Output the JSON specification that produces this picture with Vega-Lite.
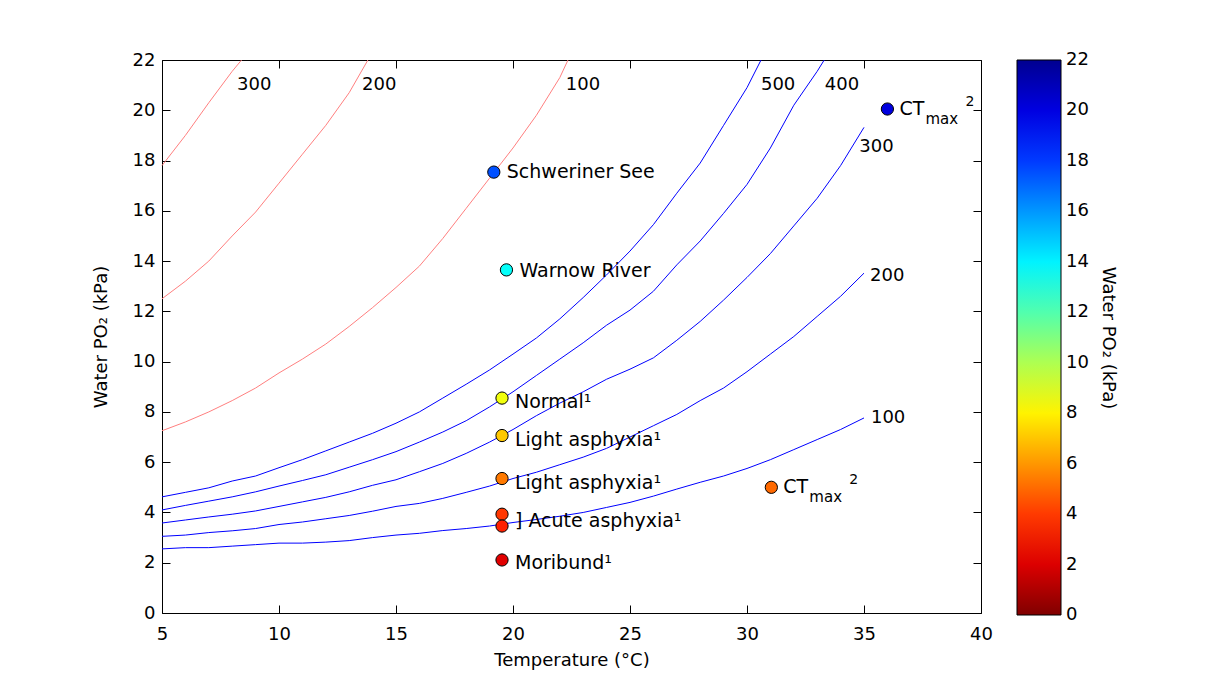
{
  "$schema": "https://vega.github.io/schema/vega-lite/v6.json",
  "width": 819,
  "height": 553,
  "autosize": "none",
  "padding": {"left": 162, "top": 60, "right": 236, "bottom": 71},
  "background": "white",
  "config": {
    "font": "DejaVu Sans",
    "view": {"stroke": null},
    "axis": {
      "domainColor": "#000000",
      "domainWidth": 1,
      "tickColor": "#000000",
      "tickWidth": 1,
      "labelColor": "#000000",
      "labelFontSize": 18,
      "titleColor": "#000000",
      "titleFontSize": 18,
      "titleFontWeight": "normal",
      "grid": false,
      "labelFlush": false,
      "labelOverlap": false
    }
  },
  "datasets": {
    "contours": [
      {"set": "blue", "level": 100, "T": 5, "P": 2.55}, {"set": "blue", "level": 100, "T": 6, "P": 2.6}, {"set": "blue", "level": 100, "T": 7, "P": 2.6}, {"set": "blue", "level": 100, "T": 8, "P": 2.66}, {"set": "blue", "level": 100, "T": 9, "P": 2.72}, {"set": "blue", "level": 100, "T": 10, "P": 2.78}, {"set": "blue", "level": 100, "T": 11, "P": 2.78}, {"set": "blue", "level": 100, "T": 12, "P": 2.82}, {"set": "blue", "level": 100, "T": 13, "P": 2.88}, {"set": "blue", "level": 100, "T": 14, "P": 3.0}, {"set": "blue", "level": 100, "T": 15, "P": 3.1}, {"set": "blue", "level": 100, "T": 16, "P": 3.17}, {"set": "blue", "level": 100, "T": 17, "P": 3.28}, {"set": "blue", "level": 100, "T": 18, "P": 3.36}, {"set": "blue", "level": 100, "T": 19, "P": 3.46}, {"set": "blue", "level": 100, "T": 20, "P": 3.6}, {"set": "blue", "level": 100, "T": 21, "P": 3.72}, {"set": "blue", "level": 100, "T": 22, "P": 3.85}, {"set": "blue", "level": 100, "T": 23, "P": 4.0}, {"set": "blue", "level": 100, "T": 24, "P": 4.2}, {"set": "blue", "level": 100, "T": 25, "P": 4.4}, {"set": "blue", "level": 100, "T": 26, "P": 4.65}, {"set": "blue", "level": 100, "T": 27, "P": 4.93}, {"set": "blue", "level": 100, "T": 28, "P": 5.2}, {"set": "blue", "level": 100, "T": 29, "P": 5.45}, {"set": "blue", "level": 100, "T": 30, "P": 5.75}, {"set": "blue", "level": 100, "T": 31, "P": 6.1}, {"set": "blue", "level": 100, "T": 32, "P": 6.5}, {"set": "blue", "level": 100, "T": 33, "P": 6.9}, {"set": "blue", "level": 100, "T": 34, "P": 7.3}, {"set": "blue", "level": 100, "T": 35, "P": 7.76},
      {"set": "blue", "level": 200, "T": 5, "P": 3.05}, {"set": "blue", "level": 200, "T": 6, "P": 3.1}, {"set": "blue", "level": 200, "T": 7, "P": 3.2}, {"set": "blue", "level": 200, "T": 8, "P": 3.27}, {"set": "blue", "level": 200, "T": 9, "P": 3.36}, {"set": "blue", "level": 200, "T": 10, "P": 3.52}, {"set": "blue", "level": 200, "T": 11, "P": 3.62}, {"set": "blue", "level": 200, "T": 12, "P": 3.75}, {"set": "blue", "level": 200, "T": 13, "P": 3.88}, {"set": "blue", "level": 200, "T": 14, "P": 4.05}, {"set": "blue", "level": 200, "T": 15, "P": 4.24}, {"set": "blue", "level": 200, "T": 16, "P": 4.36}, {"set": "blue", "level": 200, "T": 17, "P": 4.56}, {"set": "blue", "level": 200, "T": 18, "P": 4.8}, {"set": "blue", "level": 200, "T": 19, "P": 5.05}, {"set": "blue", "level": 200, "T": 20, "P": 5.35}, {"set": "blue", "level": 200, "T": 21, "P": 5.6}, {"set": "blue", "level": 200, "T": 22, "P": 5.9}, {"set": "blue", "level": 200, "T": 23, "P": 6.2}, {"set": "blue", "level": 200, "T": 24, "P": 6.55}, {"set": "blue", "level": 200, "T": 25, "P": 7.0}, {"set": "blue", "level": 200, "T": 26, "P": 7.45}, {"set": "blue", "level": 200, "T": 27, "P": 7.9}, {"set": "blue", "level": 200, "T": 28, "P": 8.45}, {"set": "blue", "level": 200, "T": 29, "P": 8.95}, {"set": "blue", "level": 200, "T": 30, "P": 9.6}, {"set": "blue", "level": 200, "T": 31, "P": 10.3}, {"set": "blue", "level": 200, "T": 32, "P": 11.0}, {"set": "blue", "level": 200, "T": 33, "P": 11.8}, {"set": "blue", "level": 200, "T": 34, "P": 12.6}, {"set": "blue", "level": 200, "T": 35, "P": 13.52},
      {"set": "blue", "level": 300, "T": 5, "P": 3.58}, {"set": "blue", "level": 300, "T": 6, "P": 3.7}, {"set": "blue", "level": 300, "T": 7, "P": 3.82}, {"set": "blue", "level": 300, "T": 8, "P": 3.93}, {"set": "blue", "level": 300, "T": 9, "P": 4.06}, {"set": "blue", "level": 300, "T": 10, "P": 4.24}, {"set": "blue", "level": 300, "T": 11, "P": 4.42}, {"set": "blue", "level": 300, "T": 12, "P": 4.6}, {"set": "blue", "level": 300, "T": 13, "P": 4.82}, {"set": "blue", "level": 300, "T": 14, "P": 5.08}, {"set": "blue", "level": 300, "T": 15, "P": 5.3}, {"set": "blue", "level": 300, "T": 16, "P": 5.62}, {"set": "blue", "level": 300, "T": 17, "P": 5.95}, {"set": "blue", "level": 300, "T": 18, "P": 6.35}, {"set": "blue", "level": 300, "T": 19, "P": 6.8}, {"set": "blue", "level": 300, "T": 20, "P": 7.3}, {"set": "blue", "level": 300, "T": 21, "P": 7.85}, {"set": "blue", "level": 300, "T": 22, "P": 8.35}, {"set": "blue", "level": 300, "T": 23, "P": 8.8}, {"set": "blue", "level": 300, "T": 24, "P": 9.3}, {"set": "blue", "level": 300, "T": 25, "P": 9.7}, {"set": "blue", "level": 300, "T": 26, "P": 10.15}, {"set": "blue", "level": 300, "T": 27, "P": 10.85}, {"set": "blue", "level": 300, "T": 28, "P": 11.6}, {"set": "blue", "level": 300, "T": 29, "P": 12.45}, {"set": "blue", "level": 300, "T": 30, "P": 13.35}, {"set": "blue", "level": 300, "T": 31, "P": 14.3}, {"set": "blue", "level": 300, "T": 32, "P": 15.4}, {"set": "blue", "level": 300, "T": 33, "P": 16.5}, {"set": "blue", "level": 300, "T": 34, "P": 17.8}, {"set": "blue", "level": 300, "T": 35, "P": 19.32},
      {"set": "blue", "level": 400, "T": 5, "P": 4.1}, {"set": "blue", "level": 400, "T": 6, "P": 4.28}, {"set": "blue", "level": 400, "T": 7, "P": 4.45}, {"set": "blue", "level": 400, "T": 8, "P": 4.62}, {"set": "blue", "level": 400, "T": 9, "P": 4.82}, {"set": "blue", "level": 400, "T": 10, "P": 5.05}, {"set": "blue", "level": 400, "T": 11, "P": 5.27}, {"set": "blue", "level": 400, "T": 12, "P": 5.5}, {"set": "blue", "level": 400, "T": 13, "P": 5.8}, {"set": "blue", "level": 400, "T": 14, "P": 6.1}, {"set": "blue", "level": 400, "T": 15, "P": 6.42}, {"set": "blue", "level": 400, "T": 16, "P": 6.8}, {"set": "blue", "level": 400, "T": 17, "P": 7.2}, {"set": "blue", "level": 400, "T": 18, "P": 7.65}, {"set": "blue", "level": 400, "T": 19, "P": 8.2}, {"set": "blue", "level": 400, "T": 20, "P": 8.8}, {"set": "blue", "level": 400, "T": 21, "P": 9.45}, {"set": "blue", "level": 400, "T": 22, "P": 10.1}, {"set": "blue", "level": 400, "T": 23, "P": 10.75}, {"set": "blue", "level": 400, "T": 24, "P": 11.45}, {"set": "blue", "level": 400, "T": 25, "P": 12.05}, {"set": "blue", "level": 400, "T": 26, "P": 12.8}, {"set": "blue", "level": 400, "T": 27, "P": 13.85}, {"set": "blue", "level": 400, "T": 28, "P": 14.8}, {"set": "blue", "level": 400, "T": 29, "P": 15.9}, {"set": "blue", "level": 400, "T": 30, "P": 17.05}, {"set": "blue", "level": 400, "T": 31, "P": 18.5}, {"set": "blue", "level": 400, "T": 32, "P": 20.2}, {"set": "blue", "level": 400, "T": 33, "P": 21.55}, {"set": "blue", "level": 400, "T": 33.3, "P": 22},
      {"set": "blue", "level": 500, "T": 5, "P": 4.62}, {"set": "blue", "level": 500, "T": 6, "P": 4.8}, {"set": "blue", "level": 500, "T": 7, "P": 4.98}, {"set": "blue", "level": 500, "T": 8, "P": 5.25}, {"set": "blue", "level": 500, "T": 9, "P": 5.45}, {"set": "blue", "level": 500, "T": 10, "P": 5.78}, {"set": "blue", "level": 500, "T": 11, "P": 6.1}, {"set": "blue", "level": 500, "T": 12, "P": 6.45}, {"set": "blue", "level": 500, "T": 13, "P": 6.8}, {"set": "blue", "level": 500, "T": 14, "P": 7.15}, {"set": "blue", "level": 500, "T": 15, "P": 7.55}, {"set": "blue", "level": 500, "T": 16, "P": 8.0}, {"set": "blue", "level": 500, "T": 17, "P": 8.55}, {"set": "blue", "level": 500, "T": 18, "P": 9.1}, {"set": "blue", "level": 500, "T": 19, "P": 9.67}, {"set": "blue", "level": 500, "T": 20, "P": 10.3}, {"set": "blue", "level": 500, "T": 21, "P": 10.94}, {"set": "blue", "level": 500, "T": 22, "P": 11.7}, {"set": "blue", "level": 500, "T": 23, "P": 12.55}, {"set": "blue", "level": 500, "T": 24, "P": 13.45}, {"set": "blue", "level": 500, "T": 25, "P": 14.4}, {"set": "blue", "level": 500, "T": 26, "P": 15.45}, {"set": "blue", "level": 500, "T": 27, "P": 16.7}, {"set": "blue", "level": 500, "T": 28, "P": 17.9}, {"set": "blue", "level": 500, "T": 29, "P": 19.4}, {"set": "blue", "level": 500, "T": 30, "P": 20.9}, {"set": "blue", "level": 500, "T": 30.6, "P": 22},
      {"set": "red", "level": 100, "T": 5, "P": 7.25}, {"set": "red", "level": 100, "T": 6, "P": 7.6}, {"set": "red", "level": 100, "T": 7, "P": 8.0}, {"set": "red", "level": 100, "T": 8, "P": 8.45}, {"set": "red", "level": 100, "T": 9, "P": 8.95}, {"set": "red", "level": 100, "T": 10, "P": 9.55}, {"set": "red", "level": 100, "T": 11, "P": 10.1}, {"set": "red", "level": 100, "T": 12, "P": 10.7}, {"set": "red", "level": 100, "T": 13, "P": 11.4}, {"set": "red", "level": 100, "T": 14, "P": 12.15}, {"set": "red", "level": 100, "T": 15, "P": 12.95}, {"set": "red", "level": 100, "T": 16, "P": 13.8}, {"set": "red", "level": 100, "T": 17, "P": 14.9}, {"set": "red", "level": 100, "T": 18, "P": 16.1}, {"set": "red", "level": 100, "T": 19, "P": 17.3}, {"set": "red", "level": 100, "T": 20, "P": 18.5}, {"set": "red", "level": 100, "T": 21, "P": 19.8}, {"set": "red", "level": 100, "T": 22, "P": 21.3}, {"set": "red", "level": 100, "T": 22.35, "P": 22},
      {"set": "red", "level": 200, "T": 5, "P": 12.5}, {"set": "red", "level": 200, "T": 6, "P": 13.2}, {"set": "red", "level": 200, "T": 7, "P": 14.0}, {"set": "red", "level": 200, "T": 8, "P": 15.0}, {"set": "red", "level": 200, "T": 9, "P": 15.95}, {"set": "red", "level": 200, "T": 10, "P": 17.1}, {"set": "red", "level": 200, "T": 11, "P": 18.25}, {"set": "red", "level": 200, "T": 12, "P": 19.4}, {"set": "red", "level": 200, "T": 13, "P": 20.7}, {"set": "red", "level": 200, "T": 13.8, "P": 22},
      {"set": "red", "level": 300, "T": 5, "P": 17.8}, {"set": "red", "level": 300, "T": 6, "P": 19.0}, {"set": "red", "level": 300, "T": 7, "P": 20.3}, {"set": "red", "level": 300, "T": 8, "P": 21.55}, {"set": "red", "level": 300, "T": 8.4, "P": 22}
    ],
    "contourLabels": [
      {"T": 8.94, "P": 20.99, "text": "300"},
      {"T": 14.28, "P": 20.99, "text": "200"},
      {"T": 22.99, "P": 20.99, "text": "100"},
      {"T": 31.33, "P": 20.99, "text": "500"},
      {"T": 34.06, "P": 20.99, "text": "400"},
      {"T": 35.53, "P": 18.53, "text": "300"},
      {"T": 35.99, "P": 13.42, "text": "200"},
      {"T": 36.03, "P": 7.75, "text": "100"}
    ],
    "sites": [
      {"site": "Schweriner See", "T": 19.18, "P": 17.54},
      {"site": "Warnow River", "T": 19.72, "P": 13.65},
      {"site": "Normal", "T": 19.53, "P": 8.55},
      {"site": "Light asphyxia a", "T": 19.53, "P": 7.06},
      {"site": "Light asphyxia b", "T": 19.53, "P": 5.35},
      {"site": "Acute asphyxia a", "T": 19.53, "P": 3.93},
      {"site": "Acute asphyxia b", "T": 19.53, "P": 3.46},
      {"site": "Moribund", "T": 19.53, "P": 2.11},
      {"site": "CTmax low", "T": 31.04, "P": 5.0},
      {"site": "CTmax high", "T": 36.0, "P": 20.05}
    ],
    "notes": [
      {"T": 19.18, "P": 17.54, "text": "Schweriner See"},
      {"T": 19.72, "P": 13.62, "text": "Warnow River"},
      {"T": 19.53, "P": 8.38, "text": "Normal¹"},
      {"T": 19.53, "P": 6.88, "text": "Light asphyxia¹"},
      {"T": 19.53, "P": 5.17, "text": "Light asphyxia¹"},
      {"T": 19.53, "P": 3.67, "text": "] Acute asphyxia¹"},
      {"T": 19.53, "P": 2.0, "text": "Moribund¹"}
    ],
    "ctmax": [
      {"T": 31.04, "P": 5.0},
      {"T": 36.0, "P": 20.05}
    ]
  },
  "layer": [
    {
      "data": {"name": "contours"},
      "transform": [{"filter": "datum.set === 'blue'"}],
      "mark": {"type": "line", "color": "#0000ff", "strokeWidth": 1},
      "encoding": {
        "x": {
          "field": "T", "type": "quantitative",
          "scale": {"domain": [5, 40], "nice": false, "zero": false},
          "axis": {"orient": "bottom", "title": "Temperature (°C)", "values": [5, 10, 15, 20, 25, 30, 35, 40], "tickSize": -8, "labelPadding": 20, "titlePadding": 8}
        },
        "y": {
          "field": "P", "type": "quantitative",
          "scale": {"domain": [0, 22], "nice": false, "zero": false},
          "axis": {"orient": "left", "title": "Water PO₂ (kPa)", "values": [0, 2, 4, 6, 8, 10, 12, 14, 16, 18, 20, 22], "tickSize": -8, "labelPadding": 15, "titlePadding": 22}
        },
        "detail": {"field": "level", "type": "nominal"}
      }
    },
    {
      "data": {"name": "contours"},
      "transform": [{"filter": "datum.set === 'red'"}],
      "mark": {"type": "line", "color": "#ff7f7f", "strokeWidth": 1},
      "encoding": {
        "x": {"field": "T", "type": "quantitative", "axis": null},
        "y": {"field": "P", "type": "quantitative", "axis": null},
        "detail": {"field": "level", "type": "nominal"}
      }
    },
    {
      "data": {"name": "contourLabels"},
      "mark": {"type": "text", "fontSize": 18, "align": "center", "baseline": "middle", "color": "#000000"},
      "encoding": {
        "x": {"field": "T", "type": "quantitative", "axis": null},
        "y": {"field": "P", "type": "quantitative", "axis": null},
        "text": {"field": "text", "type": "nominal"}
      }
    },
    {
      "data": {"name": "sites"},
      "mark": {"type": "point", "shape": "circle", "filled": true, "size": 150, "stroke": "#000000", "strokeWidth": 1, "opacity": 1},
      "encoding": {
        "x": {"field": "T", "type": "quantitative", "axis": null},
        "y": {"field": "P", "type": "quantitative", "axis": null},
        "color": {
          "field": "P", "type": "quantitative",
          "scale": {
            "domain": [0, 2.75, 5.5, 8.25, 11, 13.75, 16.5, 19.25, 22],
            "range": ["#800000", "#ff0000", "#ff8000", "#ffff00", "#80ff80", "#00ffff", "#0080ff", "#0000ff", "#000090"],
            "interpolate": "rgb"
          },
          "legend": {
            "orient": "none", "legendX": 855, "legendY": 0,
            "direction": "vertical",
            "gradientLength": 555, "gradientThickness": 44,
            "gradientStrokeColor": "#000000", "gradientStrokeWidth": 1,
            "values": [0.01, 2, 4, 6, 8, 10, 12, 14, 16, 18, 20, 21.99],
            "format": ".0f",
            "labelFontSize": 18, "labelColor": "#000000", "labelOffset": 5, "labelOverlap": false,
            "title": "Water PO₂ (kPa)", "titleOrient": "right", "titleAngle": 270,
            "titleFontSize": 18, "titleFontWeight": "normal", "titleColor": "#000000",
            "titleAnchor": "middle", "titlePadding": 10
          }
        }
      }
    },
    {
      "data": {"name": "notes"},
      "mark": {"type": "text", "fontSize": 19, "align": "left", "baseline": "middle", "dx": 13, "color": "#000000"},
      "encoding": {
        "x": {"field": "T", "type": "quantitative", "axis": null},
        "y": {"field": "P", "type": "quantitative", "axis": null},
        "text": {"field": "text", "type": "nominal"}
      }
    },
    {
      "data": {"name": "ctmax"},
      "mark": {"type": "text", "text": "CT", "fontSize": 19, "align": "left", "baseline": "middle", "dx": 12, "color": "#000000"},
      "encoding": {
        "x": {"field": "T", "type": "quantitative", "axis": null},
        "y": {"field": "P", "type": "quantitative", "axis": null}
      }
    },
    {
      "data": {"name": "ctmax"},
      "mark": {"type": "text", "text": "max", "fontSize": 15, "align": "left", "baseline": "alphabetic", "dx": 38, "dy": 15, "color": "#000000"},
      "encoding": {
        "x": {"field": "T", "type": "quantitative", "axis": null},
        "y": {"field": "P", "type": "quantitative", "axis": null}
      }
    },
    {
      "data": {"name": "ctmax"},
      "mark": {"type": "text", "text": "2", "fontSize": 14, "align": "left", "baseline": "alphabetic", "dx": 78, "dy": -3, "color": "#000000"},
      "encoding": {
        "x": {"field": "T", "type": "quantitative", "axis": null},
        "y": {"field": "P", "type": "quantitative", "axis": null}
      }
    },
    {
      "data": {"name": "contours"},
      "mark": {"type": "point", "opacity": 0},
      "encoding": {
        "x": {
          "field": "T", "type": "quantitative",
          "axis": {"orient": "top", "title": null, "labels": false, "values": [5, 10, 15, 20, 25, 30, 35, 40], "tickSize": -8}
        },
        "y": {
          "field": "P", "type": "quantitative",
          "axis": {"orient": "right", "title": null, "labels": false, "values": [0, 2, 4, 6, 8, 10, 12, 14, 16, 18, 20, 22], "tickSize": -8}
        }
      }
    }
  ]
}
